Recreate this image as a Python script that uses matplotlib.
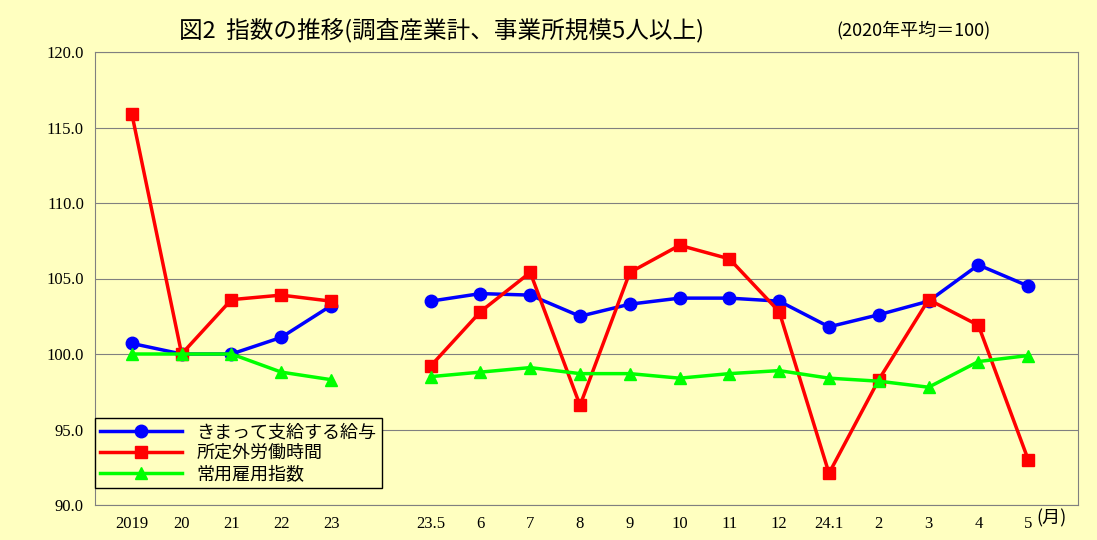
import matplotlib
matplotlib.use("Agg")
import matplotlib.pyplot as plt
import numpy as np

labels = ["2019","20","21","22","23","","23.5","6","7","8","9","10","11","12","24.1","2","3","4","5"]
wage = [100.7,100.0,100.0,101.1,103.2,None,103.5,104.0,103.9,102.5,103.3,103.7,103.7,103.5,101.8,102.6,103.5,105.9,104.5]
overtime = [115.9,100.0,103.6,103.9,103.5,None,99.2,102.8,105.4,96.6,105.4,107.2,106.3,102.8,92.1,98.3,103.6,101.9,93.0]
employ = [100.0,100.0,100.0,98.8,98.3,None,98.5,98.8,99.1,98.7,98.7,98.4,98.7,98.9,98.4,98.2,97.8,99.5,99.9]

plt.rcParams["font.family"] = ["Noto Sans CJK JP", "DejaVu Sans"]
bg = "#FFFFC0"
fig = plt.figure(figsize=(10.97, 5.4), dpi=100, facecolor=bg)
ax = fig.add_axes([95/1097, 35/540, 983/1097, 453/540], facecolor=bg)
x = np.arange(len(labels))
def arr(v): return np.array([np.nan if a is None else a for a in v], float)
ax.plot(x, arr(wage), color="#0000FF", marker="o", ms=9, lw=2.5, label="きまって支給する給与")
ax.plot(x, arr(overtime), color="#FF0000", marker="s", ms=9, lw=2.5, label="所定外労働時間")
ax.plot(x, arr(employ), color="#00FF00", marker="^", ms=9, lw=2.5, label="常用雇用指数")
ax.set_ylim(90, 120)
ax.set_xlim(-0.74, 19.0)
ax.set_yticks(np.arange(90, 121, 5))
ax.set_yticklabels([f"{v:.1f}" for v in np.arange(90, 121, 5)], fontsize=12, family="Liberation Serif")
ax.set_xticks(x)
ax.set_xticklabels(labels, fontsize=12, family="Liberation Serif")
ax.tick_params(length=0, pad=8)
ax.yaxis.grid(True, color="#808080", lw=0.8)
for s in ax.spines.values():
    s.set_color("#808080")
leg = ax.legend(loc="lower left", bbox_to_anchor=(0.0, 0.037), borderaxespad=0, fontsize=13, frameon=True,
                fancybox=False, edgecolor="black", facecolor=bg, framealpha=1,
                handlelength=4.5, borderpad=0.3, labelspacing=0.15)
fig.text(0.163, 0.945, "図2  指数の推移(調査産業計、事業所規模5人以上)", fontsize=17, va="center")
fig.text(0.762, 0.945, "(2020年平均＝100)", fontsize=13, va="center")
fig.text(0.945, 0.04, "(月)", fontsize=13, va="center")
fig.savefig("out.png", dpi=100, facecolor=bg)
